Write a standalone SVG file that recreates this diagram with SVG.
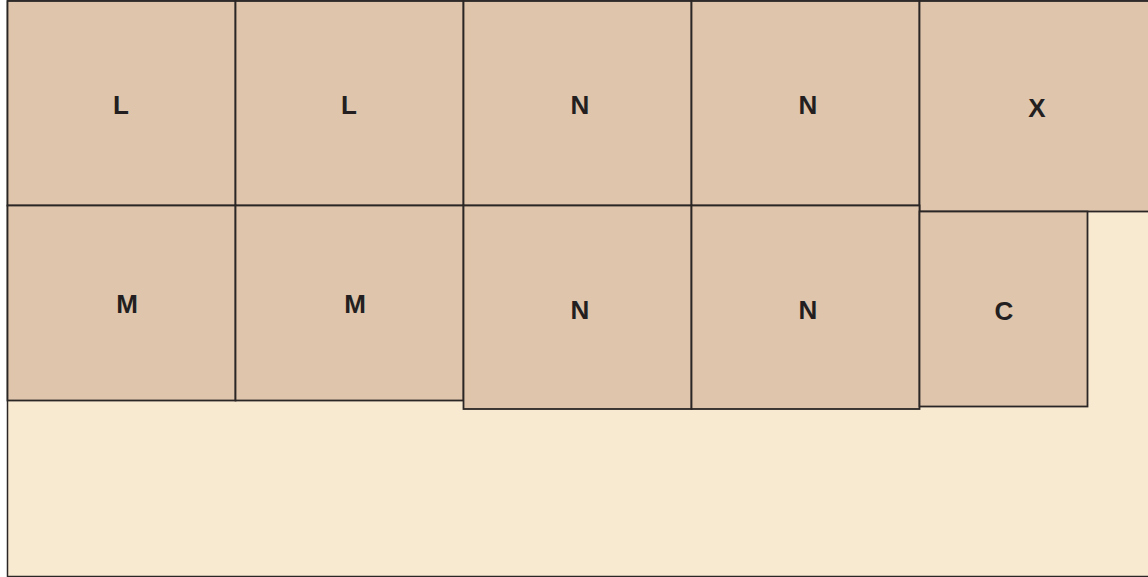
<svg xmlns="http://www.w3.org/2000/svg" width="1148" height="577" viewBox="0 0 1148 577">
<style>
.bg{fill:#f8e9d1;stroke:#2b2626;stroke-width:1.5}
.box{fill:#dfc5ab;stroke:#2b2626;stroke-width:1.8}
.lbl{font-family:"Liberation Sans",Arial,sans-serif;font-weight:bold;font-size:26px;fill:#231f20;text-anchor:middle}
</style>
<rect x="0" y="0" width="1148" height="577" fill="#ffffff"/>
<rect class="bg" x="7.5" y="1" width="1145" height="575.5"/>
<g id="n-l1"><rect class="box" x="7.5" y="1" width="228" height="204.5"/><text class="lbl" x="121" y="113.5">L</text></g>
<g id="n-l2"><rect class="box" x="235.5" y="1" width="228" height="204.5"/><text class="lbl" x="349" y="113.5">L</text></g>
<g id="n-n1"><rect class="box" x="463.5" y="1" width="228" height="204.5"/><text class="lbl" x="580" y="113.5">N</text></g>
<g id="n-n2"><rect class="box" x="691.5" y="1" width="228" height="204.5"/><text class="lbl" x="808" y="113.5">N</text></g>
<g id="n-x"><rect class="box" x="919.5" y="1" width="240" height="210.5"/><text class="lbl" x="1037" y="116.5">X</text></g>
<g id="n-m1"><rect class="box" x="7.5" y="205.5" width="228" height="195"/><text class="lbl" x="127" y="312.5">M</text></g>
<g id="n-m2"><rect class="box" x="235.5" y="205.5" width="228" height="195"/><text class="lbl" x="355" y="312.5">M</text></g>
<g id="n-n3"><rect class="box" x="463.5" y="205.5" width="228" height="203.5"/><text class="lbl" x="580" y="318.5">N</text></g>
<g id="n-n4"><rect class="box" x="691.5" y="205.5" width="228" height="203.5"/><text class="lbl" x="808" y="318.5">N</text></g>
<g id="n-c"><rect class="box" x="919.5" y="211.5" width="168" height="195"/><text class="lbl" x="1004" y="319.5">C</text></g>
<g id="connectors"></g>
</svg>
